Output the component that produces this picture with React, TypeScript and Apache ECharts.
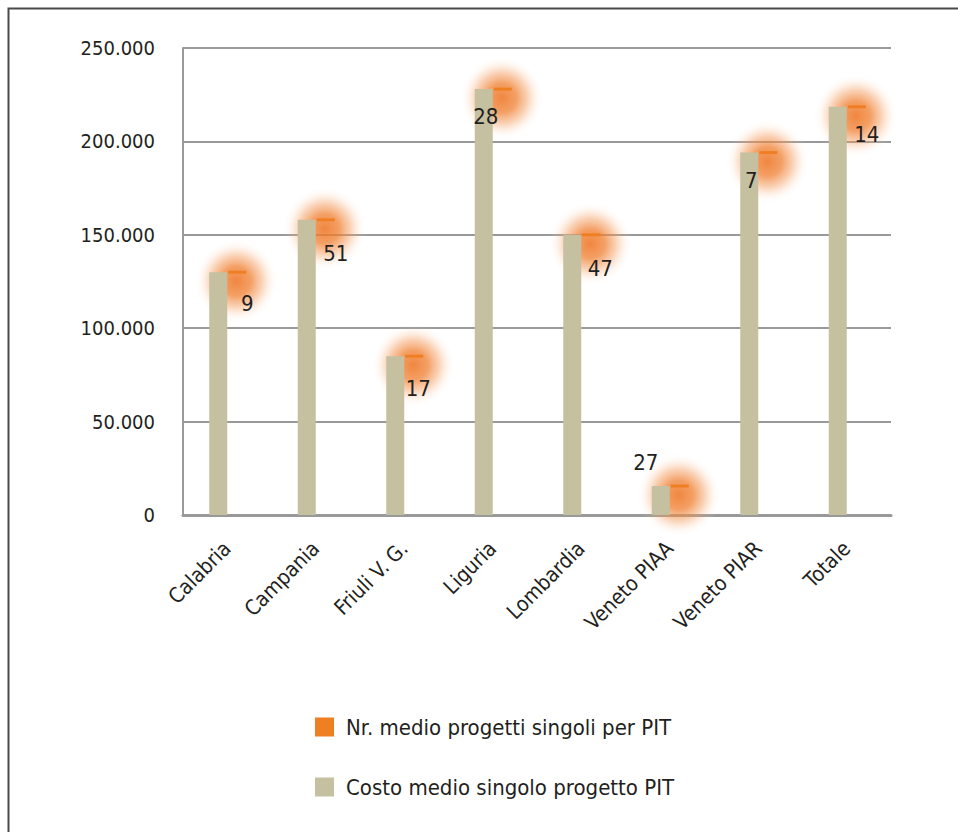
import React, { useEffect, useRef } from "react";
import * as echarts from "echarts";

const categories = ["Calabria", "Campania", "Friuli V. G.", "Liguria", "Lombardia", "Veneto PIAA", "Veneto PIAR", "Totale"];
const costoMedio = [130000, 158000, 85000, 228000, 150000, 15500, 194000, 218500];
const nrMedio = [9, 51, 17, 28, 47, 27, 7, 14];
const yTicks = { min: 0, max: 250000, interval: 50000 };

// label placement (style): offset from dash centre, in px
const labelOffsets: [number, number][] = [
  [11, 31], [11, 34], [5, 32], [-16, 27], [10, 34], [-33, -24], [-16, 28], [11, 28],
];

const NAME_NR = "Nr. medio progetti singoli per PIT";
const NAME_COSTO = "Costo medio singolo progetto PIT";
const FONT = "'Liberation Sans Narrow', 'DejaVu Sans Condensed', 'Arial Narrow', sans-serif";
const TEXT = "#231f20";
const ORANGE = "#ef7f23";
const TAN = "#c5c0a0";
const BAR_W = 18;

const fmt = (v: number) => String(v).replace(/\B(?=(\d{3})+(?!\d))/g, ".");

export default function App() {
  const ref = useRef<HTMLDivElement>(null);
  useEffect(() => {
    if (!ref.current) return;
    const chart = echarts.init(ref.current, null, { renderer: "svg" });
    const pts = costoMedio.map((c, i) => [i, c, nrMedio[i]]);
    chart.setOption({
      animation: false,
      backgroundColor: "#fff",
      textStyle: { fontFamily: FONT },
      graphic: [
        {
          type: "rect",
          shape: { x: 8.5, y: 8.5, width: 1200, height: 1200 },
          style: { fill: "none", stroke: "#4a4a4a", lineWidth: 2 },
          silent: true,
          z: 0,
        },
      ],
      grid: { left: 183, right: 67, top: 48, bottom: 317 },
      legend: {
        orient: "vertical",
        left: 315,
        top: 716,
        padding: 0,
        itemWidth: 19,
        itemHeight: 19,
        itemGap: 38,
        textStyle: { fontSize: 22, color: TEXT, fontFamily: FONT, padding: [0, 0, 0, 7] },
        data: [
          { name: NAME_NR, icon: "rect", itemStyle: { color: ORANGE } },
          { name: NAME_COSTO, icon: "rect", itemStyle: { color: TAN } },
        ],
      },
      xAxis: {
        type: "category",
        data: categories,
        axisLine: { show: true, lineStyle: { color: "#999", width: 3 } },
        axisTick: { show: false },
        axisLabel: { rotate: 45, fontSize: 21, color: TEXT, fontFamily: FONT, margin: 30, interval: 0 },
      },
      yAxis: {
        type: "value",
        min: yTicks.min,
        max: yTicks.max,
        interval: yTicks.interval,
        axisLine: { show: true, lineStyle: { color: "#999", width: 2 } },
        axisTick: { show: false },
        splitLine: { lineStyle: { color: "#999", width: 2 } },
        axisLabel: { fontSize: 20, color: TEXT, fontFamily: FONT, margin: 28, formatter: (v: number) => fmt(v) },
      },
      series: [
        {
          type: "custom",
          name: NAME_NR,
          z: 1,
          silent: true,
          data: pts,
          encode: { x: 0, y: 1 },
          renderItem: (params: any, api: any) => {
            const p = api.coord([api.value(0), api.value(1)]);
            return {
              type: "circle",
              shape: { cx: p[0] + BAR_W / 2, cy: p[1] + 9, r: 42 },
              style: {
                fill: {
                  type: "radial",
                  x: 0.5,
                  y: 0.5,
                  r: 0.5,
                  colorStops: [
                    { offset: 0, color: "rgba(238,118,38,0.88)" },
                    { offset: 0.35, color: "rgba(240,128,50,0.75)" },
                    { offset: 0.6, color: "rgba(243,150,85,0.45)" },
                    { offset: 0.8, color: "rgba(247,180,130,0.15)" },
                    { offset: 1, color: "rgba(255,255,255,0)" },
                  ],
                },
              },
            };
          },
        },
        {
          type: "bar",
          name: NAME_COSTO,
          data: costoMedio,
          barWidth: BAR_W,
          barGap: "0%",
          itemStyle: { color: TAN },
          z: 3,
        },
        {
          type: "bar",
          name: NAME_NR,
          data: costoMedio,
          barWidth: BAR_W,
          barGap: "0%",
          silent: true,
          itemStyle: { color: "rgba(0,0,0,0)" },
          z: 2,
        },
        {
          type: "custom",
          name: NAME_NR,
          z: 5,
          silent: true,
          data: pts,
          encode: { x: 0, y: 1 },
          renderItem: (params: any, api: any) => {
            const i = params.dataIndex;
            const p = api.coord([api.value(0), api.value(1)]);
            const off = labelOffsets[i];
            return {
              type: "group",
              children: [
                {
                  type: "rect",
                  shape: { x: p[0] + 1, y: p[1] - 1.5, width: BAR_W, height: 3 },
                  style: { fill: ORANGE },
                },
                {
                  type: "text",
                  x: p[0] + BAR_W / 2 + off[0],
                  y: p[1] + off[1],
                  style: {
                    text: String(api.value(2)),
                    fontSize: 22,
                    fontFamily: FONT,
                    fill: TEXT,
                    align: "center",
                    verticalAlign: "middle",
                  },
                },
              ],
            };
          },
        },
      ],
    });
    return () => chart.dispose();
  }, []);
  return <div ref={ref} style={{ position: "absolute", left: 0, top: 0, width: 958, height: 832 }} />;
}
